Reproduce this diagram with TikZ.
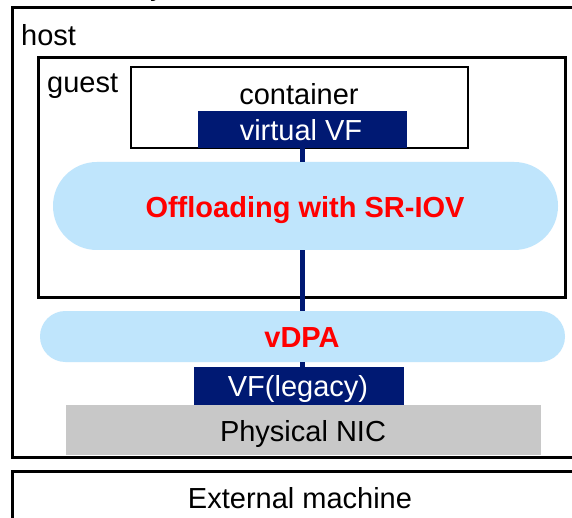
\documentclass[tikz,border=0pt]{standalone}
\usepackage{fontspec}
\setmainfont{Liberation Sans}
\definecolor{navy}{RGB}{0,25,115}
\definecolor{paleblue}{RGB}{191,229,252}
\definecolor{nicgray}{RGB}{200,200,200}
\definecolor{hotred}{RGB}{255,0,0}
\tikzset{
  frame/.style={draw=black, line width=3pt, inner sep=0pt, fill=none},
  thinframe/.style={draw=black, line width=2.4pt, inner sep=0pt, fill=white},
  pill/.style={fill=paleblue, draw=none, inner sep=0pt},
  vfbox/.style={fill=navy, draw=none, inner sep=0pt},
  nicbox/.style={fill=nicgray, draw=none, inner sep=0pt},
  lbl/.style={inner sep=0pt, font=\fontsize{29}{34}\selectfont},
  boldlbl/.style={lbl, text=hotred, font=\fontsize{29}{34}\selectfont\bfseries},
  wire/.style={draw=navy, line width=4.5pt},
}
\begin{document}
\begin{tikzpicture}[x=1pt,y=-1pt]
\useasboundingbox (0,0) rectangle (572,518);
\clip (0,0) rectangle (572,518);
\fill[white] (0,0) rectangle (572,518);

% heading text running off the top edge
\node[lbl, anchor=base west] (heading) at (150,-4) {y};

% host and guest frames
\node[frame, minimum width=588, minimum height=449] (host) at (306,232.5) {};
\node[lbl, anchor=base west] (host-t) at (21,46) {host};
\node[frame, minimum width=527, minimum height=239] (guest) at (301.5,177.5) {};
\node[lbl, anchor=base west] (guest-t) at (47,93) {guest};

% container with its virtual VF
\node[thinframe, minimum width=337, minimum height=81] (container) at (299.5,107.5) {};
\node[lbl, anchor=base] (container-t) at (299,105) {container};
\node[vfbox, minimum width=209, minimum height=37] (vvf) at (302.5,129.5) {};
\node[lbl, text=white, anchor=base] (vvf-t) at (301,141) {virtual VF};

% offload layers
\node[pill, rounded corners=43.9, minimum width=505, minimum height=88] (offload) at (305.5,206) {};
\node[boldlbl, anchor=base] (offload-t) at (305,218) {Offloading with SR-IOV};
\node[pill, rounded corners=25.4, minimum width=525, minimum height=51] (vdpa) at (302.5,336.5) {};
\node[boldlbl, anchor=base] (vdpa-t) at (302,347) {vDPA};

% NIC side
\node[nicbox, minimum width=475, minimum height=50] (nic) at (303.5,430) {};
\node[lbl, anchor=base] (nic-t) at (303,441) {Physical NIC};
\node[vfbox, minimum width=210, minimum height=38] (vfl) at (299,386) {};
\node[lbl, text=white, anchor=base] (vfl-t) at (298,396) {VF(legacy)};

% data path through the layers
\draw[wire] (vvf.south) -- (vvf.south |- offload.north);
\draw[wire] (vvf.south |- offload.south) -- (vvf.south |- vdpa.north);
\draw[wire] (vvf.south |- vdpa.south) -- (vvf.south |- vfl.north);

% external machine
\node[frame, minimum width=588, minimum height=69] (ext) at (306,505.5) {};
\node[lbl, anchor=base] (ext-t) at (300,508) {External machine};
\end{tikzpicture}
\end{document}
